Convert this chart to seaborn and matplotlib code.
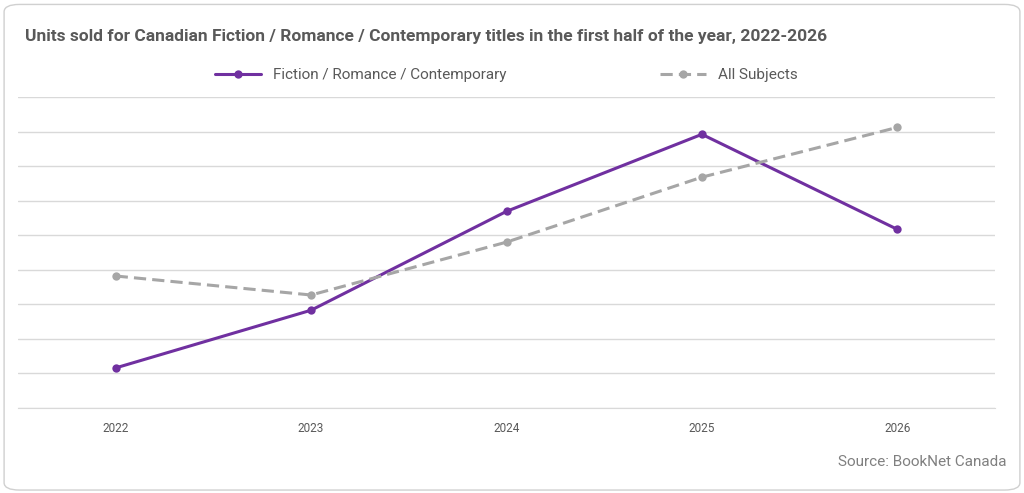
import matplotlib
matplotlib.use("Agg")
from matplotlib import pyplot as plt
from matplotlib.patches import FancyBboxPatch
import pandas as pd
import seaborn as sns

years = ["2022", "2023", "2024", "2025", "2026"]
fiction = [1.16, 2.83, 5.69, 7.92, 5.17]
all_subjects = [3.82, 3.27, 4.80, 6.68, 8.12]

df = pd.DataFrame({"year": years * 2,
                   "units": fiction + all_subjects,
                   "series": ["Fiction / Romance / Contemporary"] * 5 + ["All Subjects"] * 5})

sns.set_style("white")
plt.rcParams["font.family"] = ["Roboto", "DejaVu Sans"]

fig = plt.figure(figsize=(10.24, 4.93), dpi=100)
fig.patches.append(FancyBboxPatch((0.004, 0.006), 0.992, 0.985, boxstyle="round,pad=0,rounding_size=0.015",
                                  transform=fig.transFigure, fill=False, edgecolor="#d0d0d0", linewidth=1))
ax = fig.add_axes([18 / 1024, 1 - 408 / 493, 977 / 1024, 311 / 493])

palette = {"Fiction / Romance / Contemporary": "#7030a0", "All Subjects": "#a6a6a6"}
sns.lineplot(data=df, x="year", y="units", hue="series", style="series", palette=palette,
             dashes={"Fiction / Romance / Contemporary": "", "All Subjects": (4, 2)},
             markers={"Fiction / Romance / Contemporary": "o", "All Subjects": "o"},
             markersize=6, markeredgewidth=0, linewidth=2.2, ax=ax)

ax.set_xlim(-0.5, 4.5)
ax.set_ylim(0, 9)
ax.set_yticks(range(0, 10))
ax.set_yticklabels([])
ax.grid(axis="y", color="#d9d9d9", linewidth=1)
ax.set_axisbelow(True)
for s in ["left", "right", "top"]:
    ax.spines[s].set_visible(False)
ax.spines["bottom"].set_color("#d9d9d9")
ax.tick_params(axis="x", length=0, pad=10, labelsize=8.5, labelcolor="#595959")
ax.tick_params(axis="y", length=0)
ax.set_xlabel("")
ax.set_ylabel("")

leg = ax.legend(loc="center", bbox_to_anchor=(0.5, 1.07), ncol=2, frameon=False,
                fontsize=11, columnspacing=10, handlelength=3)
for t in leg.get_texts():
    t.set_color("#595959")

fig.text(25 / 1024, 1 - 36 / 493, "Units sold for Canadian Fiction / Romance / Contemporary titles in the first half of the year, 2022-2026",
         fontsize=12.5, fontweight="bold", color="#595959", va="center")
fig.text(1007 / 1024, 1 - 462 / 493, "Source: BookNet Canada", fontsize=11, color="#808080",
         ha="right", va="center")

fig.savefig("out.png", dpi=100)
